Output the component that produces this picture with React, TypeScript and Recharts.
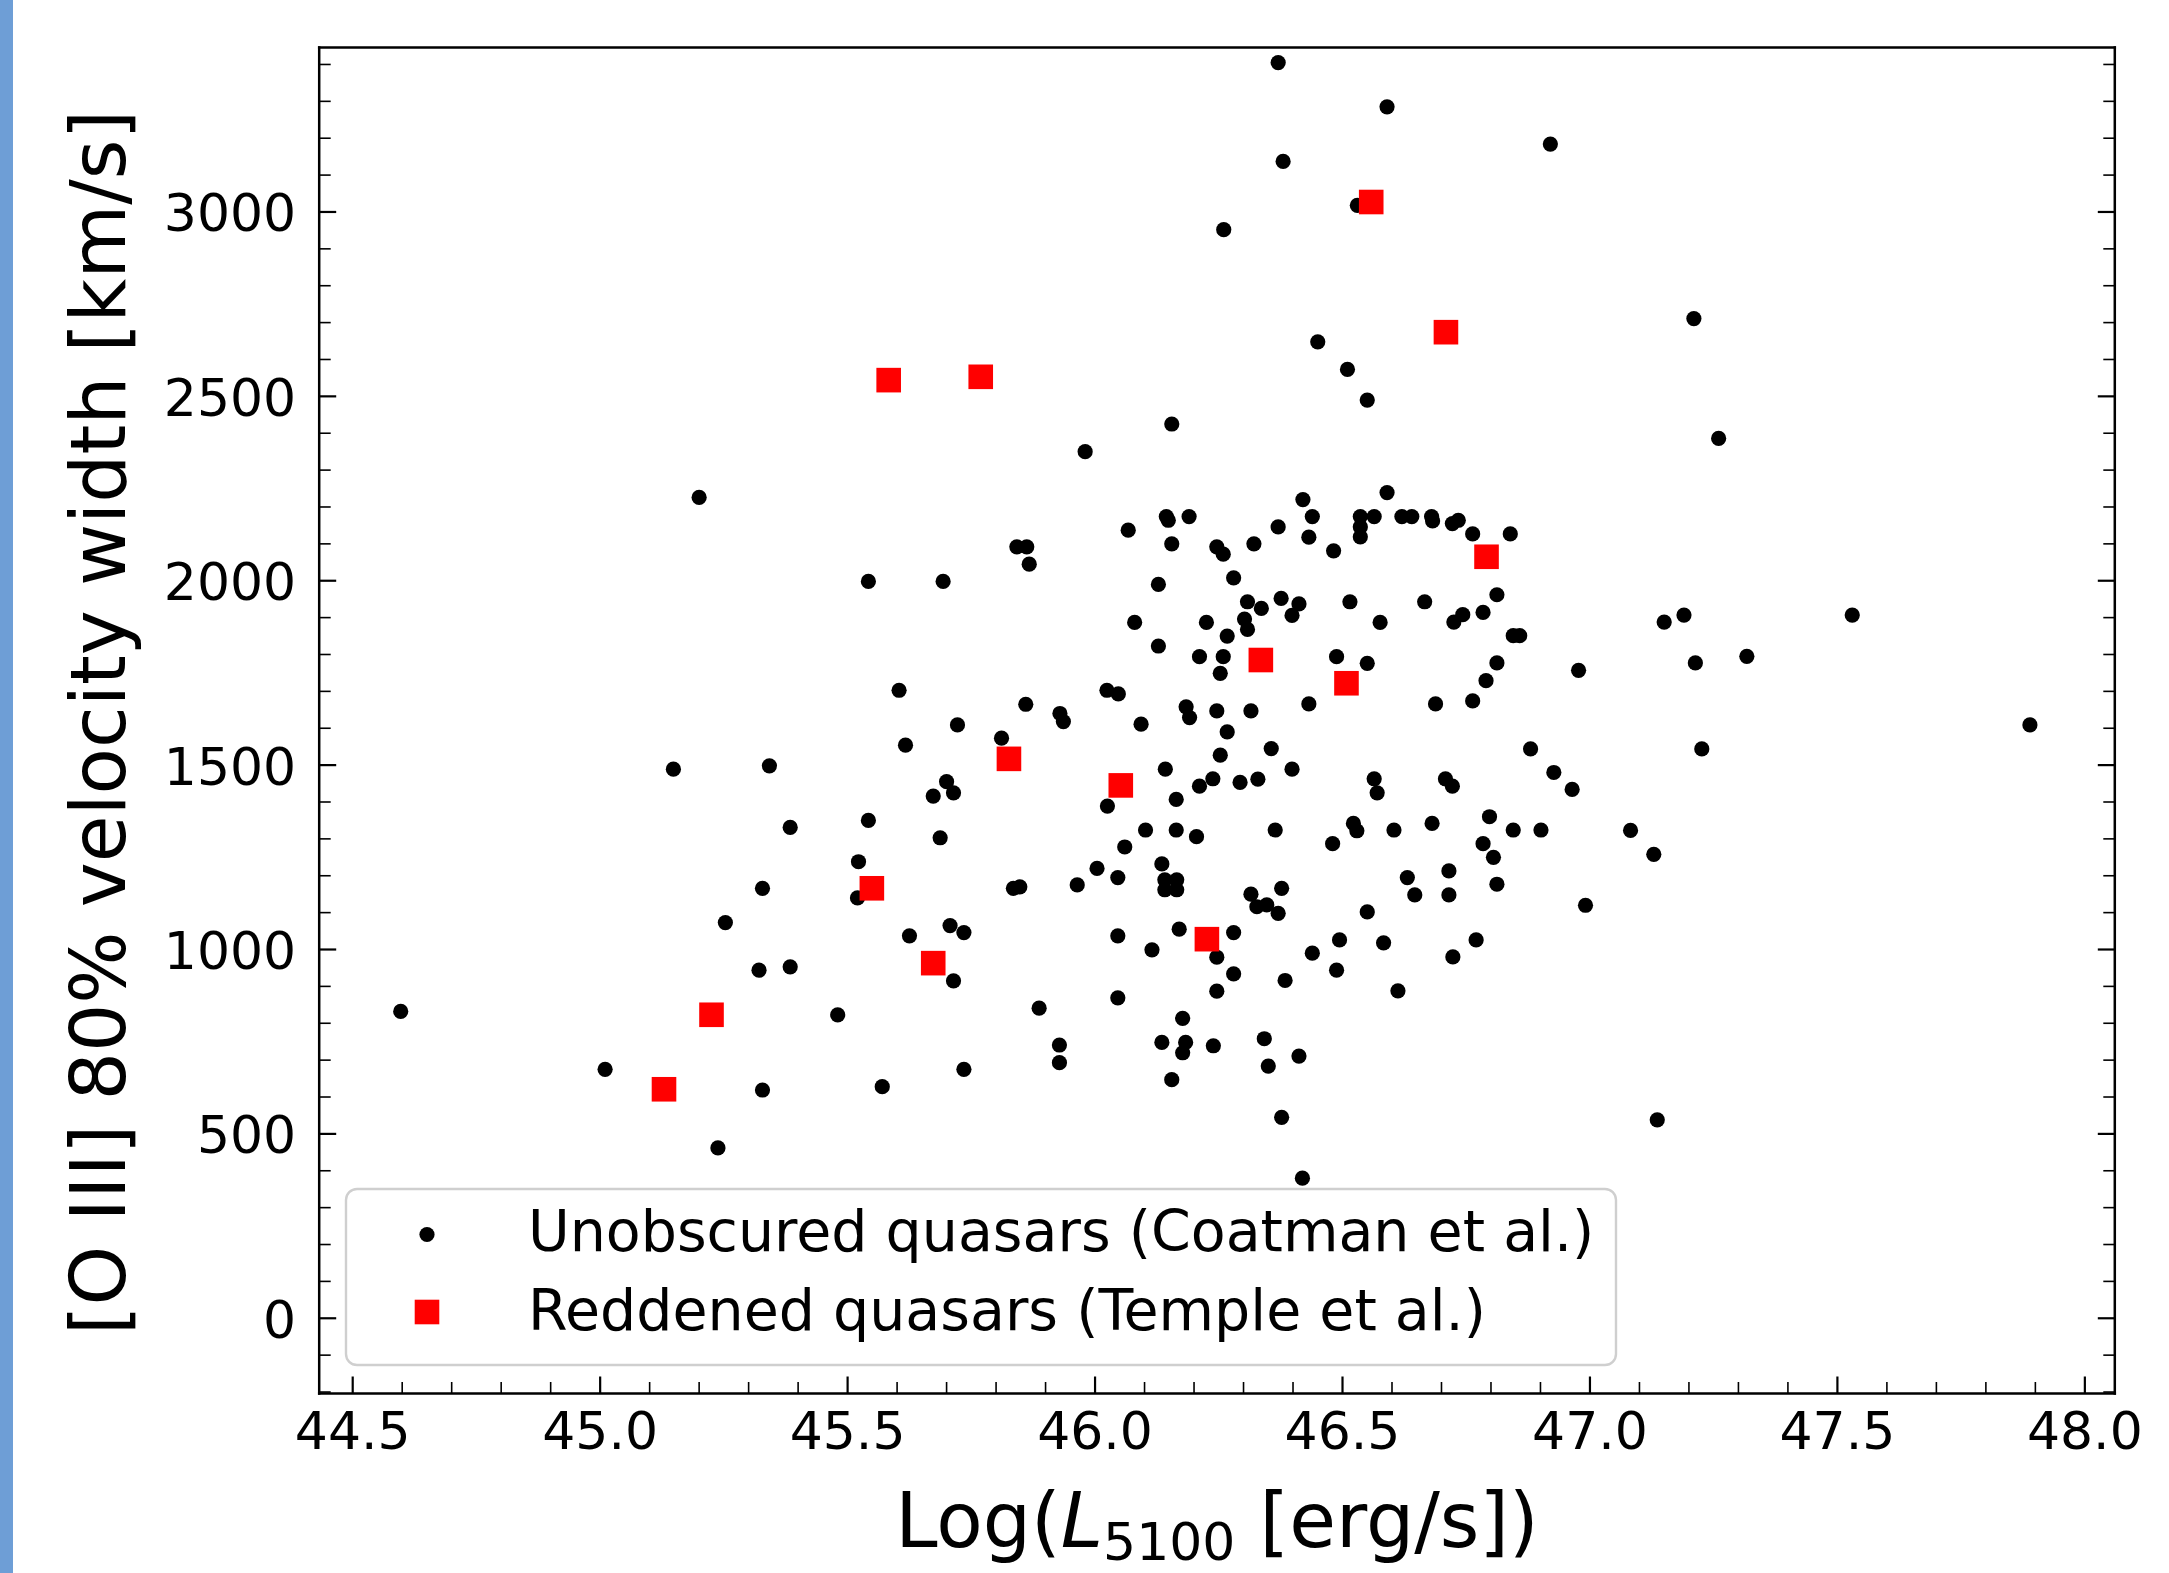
import React from 'react';
import { ScatterChart, Scatter, XAxis, YAxis, Legend } from 'recharts';

const FONT = '"DejaVu Sans", "Liberation Sans", sans-serif';

// Unobscured quasars (Coatman et al.)
const unobscuredLogL = [
  46.37, 46.59, 46.38, 46.53, 46.26, 46.45, 46.51, 46.55, 46.155, 45.98,
  46.59, 46.42, 45.2, 46.92, 47.21, 47.26, 46.734, 46.722, 46.763, 46.839,
  46.812, 46.784, 46.743, 46.725, 46.845, 46.858, 47.15, 47.19, 47.53, 46.812,
  46.977, 47.213, 47.317, 46.79, 46.763, 47.889, 46.88, 47.226, 46.927, 46.964,
  47.082, 47.129, 46.991, 47.136,
  46.144, 46.148, 46.19, 46.439, 46.536, 46.564, 46.62, 46.64, 46.68, 46.682,
  46.067, 46.37, 46.536, 46.536, 46.155, 46.432, 46.246, 46.259, 46.321, 46.482,
  46.28, 46.128, 46.308, 46.336, 46.376, 46.412, 46.398, 46.515, 46.666, 46.08,
  46.225, 46.302, 46.308, 46.576, 46.267, 46.128, 46.211, 46.259, 46.488, 46.55,
  46.253, 46.024, 46.047, 46.184, 46.191, 46.246, 46.315, 46.432, 46.688, 46.093,
  46.267, 46.356, 46.253, 46.142, 46.398, 46.238, 46.211, 46.293, 46.329, 46.564,
  46.57, 46.708, 46.722, 46.025, 46.164, 46.102, 46.164, 46.205, 46.364, 46.522,
  46.529, 46.604, 46.681, 46.797, 46.845, 46.901, 46.06, 46.48, 46.784, 46.805,
  46.135, 46.046, 46.141, 46.165, 46.141, 46.165, 46.631, 46.715, 46.812, 46.315,
  46.377, 46.646, 46.715, 46.327, 46.347, 46.37, 46.55, 46.004,
  45.842, 45.862, 45.867, 45.542, 45.693, 45.604, 45.86, 45.929, 45.936, 45.722,
  45.811, 45.617, 45.148, 45.342, 45.7, 45.714, 45.673, 45.384, 45.542, 45.687,
  45.522, 45.964, 45.328, 45.835, 45.848, 45.52,
  45.253, 45.625, 45.707, 45.735, 45.714, 45.321, 45.384, 45.48, 45.887, 45.928,
  45.928, 45.328, 45.57, 45.735, 45.238,
  46.046, 46.17, 46.28, 46.115, 46.246, 46.28, 46.246, 46.046, 46.384, 46.439,
  46.494, 46.488, 46.583, 46.612, 46.723, 46.77, 46.177, 46.135, 46.183, 46.177,
  46.239, 46.342, 46.35, 46.412, 46.155, 46.377, 46.419,
  44.597, 45.01,
];
const unobscuredW80 = [
  3405, 3285, 3137, 3018, 2952, 2648, 2573, 2490, 2425, 2350,
  2239, 2220, 2226, 3184, 2711, 2386, 2164, 2155, 2127, 2127,
  1962, 1914, 1908, 1888, 1851, 1851, 1888, 1907, 1907, 1777,
  1757, 1777, 1795, 1729, 1674, 1609, 1544, 1544, 1480, 1434,
  1323, 1258, 1120, 538,
  2174, 2164, 2174, 2174, 2174, 2174, 2174, 2174, 2174, 2162,
  2137, 2146, 2146, 2119, 2100, 2118, 2092, 2072, 2100, 2081,
  2008, 1990, 1943, 1925, 1952, 1937, 1906, 1943, 1943, 1887,
  1887, 1896, 1868, 1887, 1850, 1823, 1794, 1794, 1794, 1776,
  1749, 1703, 1693, 1658, 1629, 1647, 1647, 1666, 1666, 1611,
  1590, 1545, 1527, 1489, 1489, 1463, 1443, 1453, 1462, 1463,
  1425, 1463, 1443, 1389, 1407, 1324, 1324, 1306, 1324, 1342,
  1322, 1324, 1342, 1360, 1324, 1324, 1278, 1287, 1287, 1250,
  1232, 1195, 1189, 1189, 1162, 1162, 1195, 1213, 1177, 1150,
  1166, 1148, 1148, 1116, 1121, 1098, 1102, 1220,
  2092, 2092, 2045, 1998, 1998, 1703, 1665, 1640, 1618, 1609,
  1573, 1554, 1489, 1498, 1455, 1425, 1416, 1331, 1350, 1303,
  1238, 1175, 1166, 1166, 1170, 1140,
  1073, 1037, 1065, 1046, 915, 944, 953, 823, 841, 741,
  693, 619, 628, 675, 462,
  1037, 1055, 1046, 999, 979, 934, 887, 869, 916, 990,
  1026, 944, 1018, 888, 980, 1026, 813, 748, 748, 720,
  739, 758, 684, 711, 647, 545, 380,
  832, 675,
];

// Reddened quasars (Temple et al.)
const reddenedLogL = [
  45.129, 45.225, 45.549, 45.583, 45.673, 45.769, 45.826, 46.052, 46.226, 46.335,
  46.508, 46.558, 46.709, 46.791,
];
const reddenedW80 = [
  621, 823, 1166, 2544, 963, 2553, 1517, 1445, 1028, 1785,
  1722, 3027, 2674, 2065,
];

const seriesNames = ['Unobscured quasars (Coatman et al.)', 'Reddened quasars (Temple et al.)'];

const xDomain = [44.4323, 48.0605];
const yDomain = [-204, 3446];

// tick positions: minor every 0.1 / 100, major every 0.5 / 500
const xTicks: number[] = [];
for (let i = 445; i <= 480; i++) xTicks.push(i / 10);
const yTicks: number[] = [];
for (let v = -200; v <= 3400; v += 100) yTicks.push(v);

const isMajorX = (v: number) => Math.abs(v * 2 - Math.round(v * 2)) < 1e-6;
const isMajorY = (v: number) => v % 500 === 0;

const unobscuredData = unobscuredLogL.map((x, i) => ({ x, y: unobscuredW80[i] }));
const reddenedData = reddenedLogL.map((x, i) => ({ x, y: reddenedW80[i] }));

const MAJ = 17;
const MIN = 11.5;
const MAJ_W = 2.2;
const MIN_W = 1.6;
const TICK_FS = 52;

const BottomTick = (p: any) => {
  const v = p.payload.value;
  const major = isMajorX(v);
  return (
    <g>
      <line x1={p.x} x2={p.x} y1={p.y} y2={p.y - (major ? MAJ : MIN)} stroke="#000" strokeWidth={major ? MAJ_W : MIN_W} />
      {major && (
        <text x={p.x} y={p.y + 55.5} textAnchor="middle" fontFamily={FONT} fontSize={TICK_FS} fill="#000">
          {v.toFixed(1)}
        </text>
      )}
    </g>
  );
};

const TopTick = (p: any) => {
  const major = isMajorX(p.payload.value);
  return <line x1={p.x} x2={p.x} y1={p.y} y2={p.y + (major ? MAJ : MIN)} stroke="#000" strokeWidth={major ? MAJ_W : MIN_W} />;
};

const LeftTick = (p: any) => {
  const v = p.payload.value;
  const major = isMajorY(v);
  return (
    <g>
      <line x1={p.x} x2={p.x + (major ? MAJ : MIN)} y1={p.y} y2={p.y} stroke="#000" strokeWidth={major ? MAJ_W : MIN_W} />
      {major && (
        <text x={p.x - 23} y={p.y + 19.5} textAnchor="end" fontFamily={FONT} fontSize={TICK_FS} fill="#000">
          {String(v)}
        </text>
      )}
    </g>
  );
};

const RightTick = (p: any) => {
  const major = isMajorY(p.payload.value);
  return <line x1={p.x} x2={p.x - (major ? MAJ : MIN)} y1={p.y} y2={p.y} stroke="#000" strokeWidth={major ? MAJ_W : MIN_W} />;
};

const XLabel = (p: any) => {
  const vb = p.viewBox || { x: 319.2, y: 1393.5, width: 1795.6, height: 179.5 };
  return (
    <text x={vb.x + vb.width / 2} y={vb.y + 153.5} textAnchor="middle" fontFamily={FONT} fontSize={76} fill="#000">
      Log(<tspan fontStyle="italic">L</tspan>
      <tspan fontSize={52} dy={13}>5100</tspan>
      <tspan dy={-13}>{' [erg/s])'}</tspan>
    </text>
  );
};

const YLabel = (p: any) => {
  const vb = p.viewBox || { x: 0, y: 47.5, width: 319.2, height: 1346 };
  const cx = vb.x + 124.5;
  const cy = vb.y + vb.height / 2 + 2;
  return (
    <text x={cx} y={cy} transform={`rotate(-90 ${cx} ${cy})`} textAnchor="middle" fontFamily={FONT} fontSize={76} fill="#000">
      [O III] 80% velocity width [km/s]
    </text>
  );
};

const Dot = (p: any) => <circle cx={p.cx} cy={p.cy} r={7.6} fill="#000" />;
const Square = (p: any) => <rect x={p.cx - 12.3} y={p.cy - 12.3} width={24.6} height={24.6} fill="#ff0000" />;

const LegendBox = (props: any) => {
  const payload = [...(props.payload || [])].sort(
    (a: any, b: any) => seriesNames.indexOf(a.value) - seriesNames.indexOf(b.value)
  );
  return (
    <svg width={1272} height={178} style={{ display: 'block', overflow: 'visible' }}>
      <rect x={1} y={1} width={1270} height={176} rx={11} ry={11} fill="#ffffff" fillOpacity={0.8} stroke="#cfcfcf" strokeWidth={2.4} />
      {payload.map((e: any, i: number) => {
        const my = i === 0 ? 46.5 : 124;
        const ty = i === 0 ? 63 : 142;
        return (
          <g key={i}>
            {e.type === 'square' ? (
              <rect x={82 - 12.3} y={my - 12.3} width={24.6} height={24.6} fill={e.color} />
            ) : (
              <circle cx={82} cy={my} r={7.6} fill={e.color} />
            )}
            <text x={183} y={ty} fontFamily={FONT} fontSize={57} fill="#000">
              {e.value}
            </text>
          </g>
        );
      })}
    </svg>
  );
};

const spine = { stroke: '#000', strokeWidth: 2.5, strokeLinecap: 'square' as const };

export default function App() {
  return (
    <div style={{ position: 'absolute', left: 0, top: 0, width: 2169, height: 1573, background: '#ffffff', overflow: 'hidden' }}>
      <div style={{ position: 'absolute', left: 0, top: 0, width: 12.5, height: 1573, background: '#6e9ed6' }} />
      <div style={{ position: 'absolute', left: 0, top: 0 }}>
        <ScatterChart width={2169} height={1573} margin={{ top: 46.5, right: 53.2, bottom: 0, left: 0 }}>
          <XAxis
            xAxisId={0}
            dataKey="x"
            type="number"
            orientation="bottom"
            domain={xDomain}
            allowDataOverflow
            ticks={xTicks}
            interval={0}
            height={179.5}
            tickSize={0}
            tickMargin={0}
            tickLine={false}
            axisLine={spine}
            tick={BottomTick}
            label={{ content: XLabel }}
          />
          <XAxis
            xAxisId="top"
            type="number"
            orientation="top"
            domain={xDomain}
            allowDataOverflow
            ticks={xTicks}
            interval={0}
            height={1}
            tickSize={0}
            tickMargin={0}
            tickLine={false}
            axisLine={spine}
            tick={TopTick}
          />
          <YAxis
            yAxisId={0}
            dataKey="y"
            type="number"
            orientation="left"
            domain={yDomain}
            allowDataOverflow
            ticks={yTicks}
            interval={0}
            width={319.2}
            tickSize={0}
            tickMargin={0}
            tickLine={false}
            axisLine={spine}
            tick={LeftTick}
            label={{ content: YLabel }}
          />
          <YAxis
            yAxisId="right"
            type="number"
            orientation="right"
            domain={yDomain}
            allowDataOverflow
            ticks={yTicks}
            interval={0}
            width={1}
            tickSize={0}
            tickMargin={0}
            tickLine={false}
            axisLine={spine}
            tick={RightTick}
          />
          <Legend
            layout="horizontal"
            verticalAlign="middle"
            align="center"
            wrapperStyle={{ left: 345, top: 1188, width: 1272, height: 178 }}
            content={LegendBox}
          />
          <Scatter
            name={seriesNames[0]}
            data={unobscuredData}
            fill="#000000"
            legendType="circle"
            shape={Dot}
            isAnimationActive={false}
          />
          <Scatter
            name={seriesNames[1]}
            data={reddenedData}
            fill="#ff0000"
            legendType="square"
            shape={Square}
            isAnimationActive={false}
          />
        </ScatterChart>
      </div>
    </div>
  );
}
